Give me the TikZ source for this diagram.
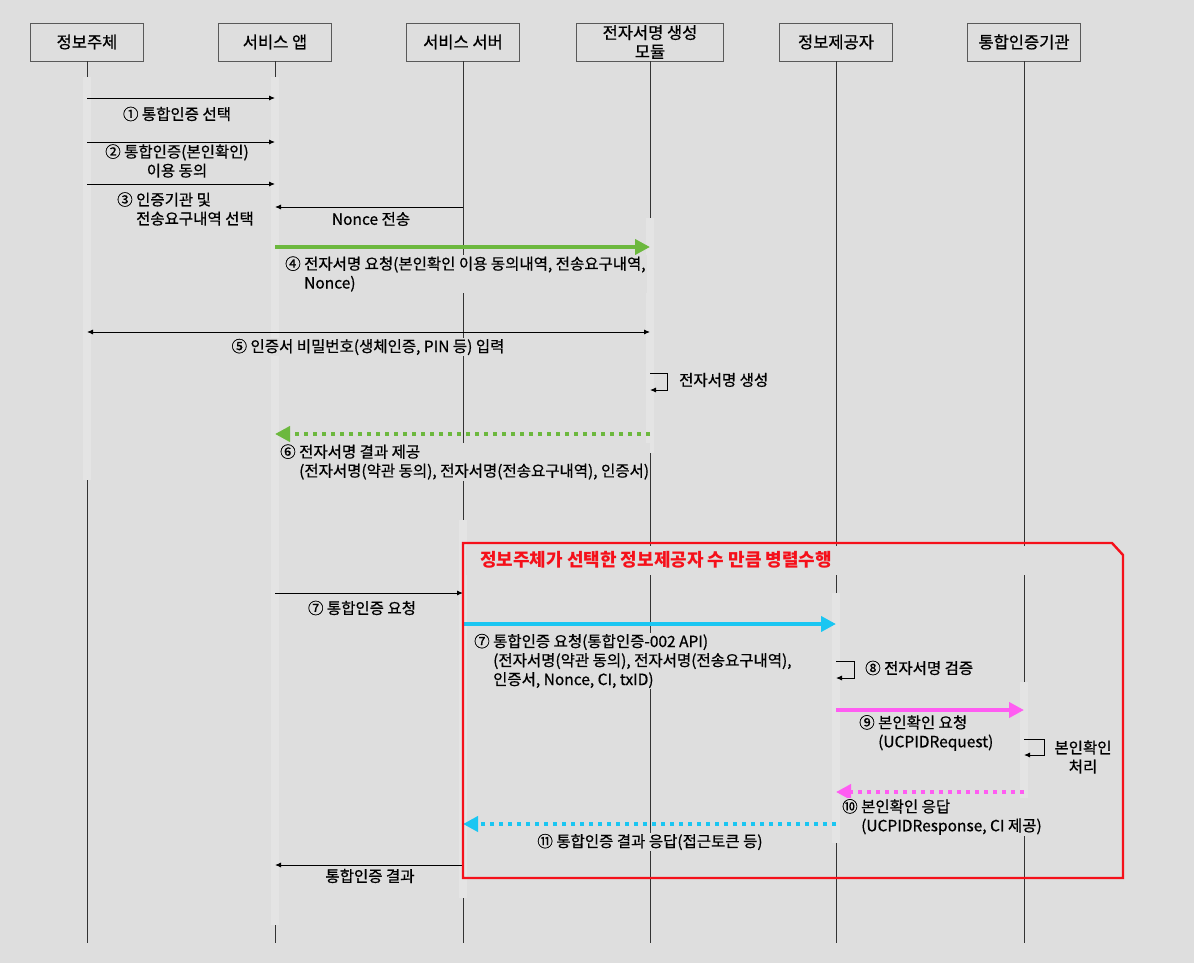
\documentclass[tikz,border=0pt]{standalone}
\usepackage{fontspec}
\setmainfont{Noto Sans CJK KR}
\newfontfamily\lblfont{Noto Sans CJK KR}[FakeBold=0.7]
\usepackage{tikz}
\usetikzlibrary{positioning,calc,arrows.meta}

\definecolor{bgc}{HTML}{DEDEDE}
\definecolor{actc}{HTML}{E4E4E4}
\definecolor{sigGreen}{HTML}{6CB83E}
\definecolor{reqCyan}{HTML}{1AC6F2}
\definecolor{idPink}{HTML}{FF5CF2}
\definecolor{frameRed}{HTML}{F5101A}

\tikzset{
  actor/.style={draw=black!65, fill=bgc, line width=0.8pt, minimum width=113pt,
    minimum height=38pt, inner sep=0pt, align=center,
    font=\lblfont\fontsize{16.5}{19}\selectfont},
  life/.style={draw=black!80, line width=0.7pt},
  act/.style={fill=actc, draw=none},
  msg/.style={draw=black, line width=0.9pt, -{Latex[length=6pt,width=5pt]}},
  lbl/.style={fill=bgc, inner sep=1pt, align=center,
    font=\lblfont\fontsize{15.5}{19}\selectfont},
  lbll/.style={lbl, align=left, anchor=west},
  fat/.style={line width=4pt, -{Triangle[length=15pt,width=15pt]}},
  fatdot/.style={fat, dash pattern=on 4pt off 5pt},
}

\begin{document}
\begin{tikzpicture}[x=1pt, y=-1pt]
    \fill[bgc] (0,0) rectangle (1194,963);
    \useasboundingbox (0,0) rectangle (1194,963);

    % Participants
    \node[actor] (subj) at (87,42) {정보주체};
    \node[actor] (app) at (275,42) {서비스 앱};
    \node[actor] (srv) at (463,42) {서비스 서버};
    \node[actor, minimum width=147pt] (sigmod) at (650,42) {전자서명 생성\\모듈};
    \node[actor] (prov) at (836,42) {정보제공자};
    \node[actor] (ica) at (1024,42) {통합인증기관};

    % Lifelines
    \foreach \p in {subj,app,srv,sigmod,prov,ica}
        \draw[life] (\p.south) -- (\p |- 0,943);

    % Activation bars (lighter strips)
    \fill[act] (subj |- 0,77) ++(-4,0) rectangle ++(8,403);
    \fill[act] (app |- 0,77) ++(-4,0) rectangle ++(8,848);
    \fill[act] (srv |- 0,520) ++(-4,0) rectangle ++(8,378);
    \fill[act] (sigmod |- 0,218) ++(-4,0) rectangle ++(8,235);
    \fill[act] (prov |- 0,593) ++(-4,0) rectangle ++(8,250);
    \fill[act] (ica |- 0,682) ++(-4,0) rectangle ++(8,123);

    % Parallel block title strip
    \fill[bgc] (466,546) rectangle (1120,575);
    \node[anchor=west, text=frameRed, inner sep=1pt, font=\fontsize{18}{20}\bfseries] (partitle) at (479,560)
        {정보주체가 선택한 정보제공자 수 만큼 병렬수행};

    % 1-3: subject -> app
    \draw[msg] (subj |- 0,98) -- (app |- 0,98);
    \node[lbl] (m1) at (177,114) {① 통합인증 선택};
    \draw[msg] (subj |- 0,142) -- (app |- 0,142);
    \node[lbl] (m2) at (177,161) {② 통합인증(본인확인)\\이용 동의};
    \draw[msg] (subj |- 0,184) -- (app |- 0,184);
    \node[lbll] (m3) at (116,209) {③ 인증기관 및\\\phantom{③ }전송요구내역 선택};

    % Nonce
    \draw[msg] (srv |- 0,207) -- (app |- 0,207);
    \node[lbl] (nonce) at (371,219) {Nonce 전송};

    % 4: signature request
    \draw[fat, sigGreen] (app |- 0,247) -- (sigmod |- 0,247);
    \node[lbll] (m4) at (284,274) {④ 전자서명 요청(본인확인 이용 동의내역, 전송요구내역,\\\phantom{④ }Nonce)};

    % 5: password input
    \draw[msg, {Latex[length=6pt,width=5pt]}-{Latex[length=6pt,width=5pt]}] (subj |- 0,332) -- (sigmod |- 0,332);
    \node[lbl] (m5) at (368,347) {⑤ 인증서 비밀번호(생체인증, PIN 등) 입력};

    % signature generation (self)
    \draw[msg] (sigmod |- 0,373) -- ++(17,0) -- ++(0,17) -- (sigmod |- 0,390);
    \node[lbll] (gen) at (678,380) {전자서명 생성};

    % 6: signature result
    \draw[fatdot, sigGreen] (sigmod |- 0,434) -- (app |- 0,434);
    \node[lbll] (m6) at (279,462) {⑥ 전자서명 결과 제공\\\phantom{⑥ }(전자서명(약관 동의), 전자서명(전송요구내역), 인증서)};

    % 7: auth request
    \draw[msg] (app |- 0,593) -- (srv |- 0,593);
    \node[lbl] (m7a) at (362,608) {⑦ 통합인증 요청};
    \draw[fat, reqCyan] (srv |- 0,624) -- (prov |- 0,624);
    \node[lbll] (m7b) at (473,661) {⑦ 통합인증 요청(통합인증-002 API)\\\phantom{⑦ }(전자서명(약관 동의), 전자서명(전송요구내역),\\\phantom{⑦ }인증서, Nonce, CI, txID)};

    % 8: verification (self)
    \draw[msg] (prov |- 0,661) -- ++(18,0) -- ++(0,17) -- (prov |- 0,678);
    \node[lbll] (m8) at (864,668) {⑧ 전자서명 검증};

    % 9: identity request
    \draw[fat, idPink] (prov |- 0,710) -- (ica |- 0,710);
    \node[lbll] (m9) at (858,733) {⑨ 본인확인 요청\\\phantom{⑨ }(UCPIDRequest)};

    % identity processing (self)
    \draw[msg] (ica |- 0,739) -- ++(20,0) -- ++(0,16) -- (ica |- 0,755);
    \node[lbl] (proc) at (1083,757) {본인확인\\처리};

    % 10: identity response
    \draw[fatdot, idPink] (ica |- 0,792) -- (prov |- 0,792);
    \node[lbll] (m10) at (841,817) {⑩ 본인확인 응답\\\phantom{⑩ }(UCPIDResponse, CI 제공)};

    % 11: auth result response
    \draw[fatdot, reqCyan] (prov |- 0,824) -- (srv |- 0,824);
    \node[lbl] (m11) at (650,842) {⑪ 통합인증 결과 응답(접근토큰 등)};

    % result to app
    \draw[msg] (srv |- 0,865) -- (app |- 0,865);
    \node[lbl] (res) at (370,876) {통합인증 결과};

    % Parallel block frame
    \draw[frameRed, line width=2.4pt] (srv |- 0,543) -- (1112,543) -- (1123,555)
        -- (1123,878) -- (srv |- 0,878) -- cycle;
\end{tikzpicture}
\end{document}
